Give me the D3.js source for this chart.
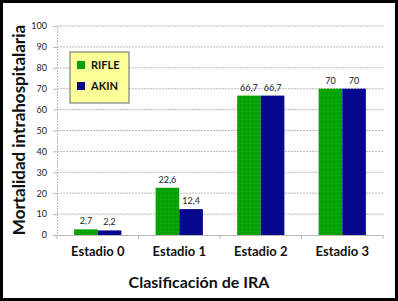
<!DOCTYPE html>
<html>
<head>
<meta charset="utf-8">
<script src="https://cdn.jsdelivr.net/npm/d3@7"></script>
<style>
  html, body { margin: 0; padding: 0; background: #fff; }
</style>
</head>
<body>
<div id="chart"></div>
<script>
// datos
const categorias = ["Estadio 0", "Estadio 1", "Estadio 2", "Estadio 3"];
const series = ["RIFLE", "AKIN"];
const rifle = [2.7, 22.6, 66.7, 70];
const akin = [2.2, 12.4, 66.7, 70];
const yTicks = [0, 10, 20, 30, 40, 50, 60, 70, 80, 90, 100];

const width = 398, height = 301;
const margin = { top: 26, right: 15, bottom: 66, left: 57 };
const colores = { RIFLE: "#07a007", AKIN: "#07078c" };
const fuente = "Lato, 'Open Sans', sans-serif";

const svg = d3.select("#chart").append("svg")
    .attr("width", width)
    .attr("height", height)
    .style("font-family", fuente);

// patrón punteado de las barras
const defs = svg.append("defs");
series.forEach(s => {
    const p = defs.append("pattern")
        .attr("id", "pat-" + s)
        .attr("width", 4).attr("height", 4)
        .attr("patternUnits", "userSpaceOnUse");
    p.append("rect").attr("width", 4).attr("height", 4).attr("fill", colores[s]);
    p.append("rect").attr("x", 1).attr("y", 1).attr("width", 1).attr("height", 1)
        .attr("fill", d3.color(colores[s]).brighter(0.6));
});

// marco exterior
svg.append("rect")
    .attr("x", 1.5).attr("y", 1.5)
    .attr("width", width - 3).attr("height", height - 3)
    .attr("fill", "#fff")
    .attr("stroke", "#000")
    .attr("stroke-width", 3);

const w = width - margin.left - margin.right;
const h = height - margin.top - margin.bottom;
const g = svg.append("g").attr("transform", `translate(${margin.left},${margin.top})`);

const x0 = d3.scaleBand().domain(categorias).range([0, w]).paddingInner(0.42).paddingOuter(0.21);
const x1 = d3.scaleBand().domain(series).range([0, x0.bandwidth()]);
const y = d3.scaleLinear().domain([0, 100]).range([h, 0]);

// líneas de cuadrícula
g.selectAll(".grid")
    .data(yTicks.filter(d => d > 0))
    .enter().append("line")
    .attr("x1", 0).attr("x2", w)
    .attr("y1", d => y(d)).attr("y2", d => y(d))
    .attr("stroke", "#b8b8b8")
    .attr("stroke-dasharray", "2,1");

// eje y
const ejeY = g.append("g")
    .call(d3.axisLeft(y).tickValues(yTicks).tickSize(4).tickPadding(6));
ejeY.select(".domain").attr("stroke", "#b8b8b8").attr("stroke-dasharray", "2,1");
ejeY.selectAll(".tick line").attr("stroke", "#b8b8b8");
ejeY.selectAll("text").style("font-size", "9px").style("font-family", fuente).attr("fill", "#222");

// eje x
const ejeX = g.append("g").attr("transform", `translate(0,${h})`)
    .call(d3.axisBottom(x0).tickSize(0).tickPadding(12));
ejeX.select(".domain").attr("stroke", "#b8b8b8");
ejeX.selectAll("text").style("font-size", "13px").style("font-weight", "bold")
    .style("font-family", fuente).attr("fill", "#111");
// marcas entre categorías
const limites = categorias.map((c, i) => i === 0 ? 0 : x0(c) - x0.step() * x0.paddingInner() / 2).concat([w]);
g.selectAll(".sep")
    .data(limites)
    .enter().append("line")
    .attr("x1", d => d).attr("x2", d => d)
    .attr("y1", h).attr("y2", h + 4)
    .attr("stroke", "#b8b8b8");

// barras
const filas = categorias.map((c, i) => ({ cat: c, valores: [
    { serie: "RIFLE", v: rifle[i] }, { serie: "AKIN", v: akin[i] }] }));

const grupos = g.selectAll(".grupo")
    .data(filas)
    .enter().append("g")
    .attr("transform", d => `translate(${x0(d.cat)},0)`);

grupos.selectAll("rect")
    .data(d => d.valores)
    .enter().append("rect")
    .attr("x", d => x1(d.serie))
    .attr("y", d => y(d.v))
    .attr("width", x1.bandwidth())
    .attr("height", d => h - y(d.v))
    .attr("fill", d => `url(#pat-${d.serie})`);

grupos.selectAll(".valor")
    .data(d => d.valores)
    .enter().append("text")
    .attr("x", d => x1(d.serie) + x1.bandwidth() / 2)
    .attr("y", d => y(d.v) - 5)
    .attr("text-anchor", "middle")
    .style("font-size", "9px")
    .attr("fill", "#222")
    .text(d => String(d.v).replace(".", ","));

// leyenda
const leyenda = svg.append("g").attr("transform", "translate(70,52)");
leyenda.append("rect")
    .attr("width", 59).attr("height", 51)
    .attr("fill", "#ffff99")
    .attr("stroke", "#5a6a70")
    .attr("stroke-width", 1);
series.forEach((s, i) => {
    leyenda.append("rect")
        .attr("x", 7).attr("y", 9 + i * 21)
        .attr("width", 8).attr("height", 8)
        .attr("fill", colores[s]);
    leyenda.append("text")
        .attr("x", 21).attr("y", 13 + i * 21)
        .attr("dy", "0.35em")
        .style("font-size", "11px")
        .style("font-weight", "bold")
        .attr("fill", "#111")
        .text(s);
});

// títulos de ejes
svg.append("text")
    .attr("transform", "translate(19,130) rotate(-90)")
    .attr("text-anchor", "middle")
    .attr("dy", "0.35em")
    .style("font-size", "17px")
    .style("font-weight", "bold")
    .attr("fill", "#111")
    .text("Mortalidad intrahospitalaria");

svg.append("text")
    .attr("x", 199)
    .attr("y", 282)
    .attr("text-anchor", "middle")
    .attr("dy", "0.35em")
    .style("font-size", "16px")
    .style("font-weight", "bold")
    .attr("fill", "#111")
    .text("Clasificación de IRA");
</script>
</body>
</html>
